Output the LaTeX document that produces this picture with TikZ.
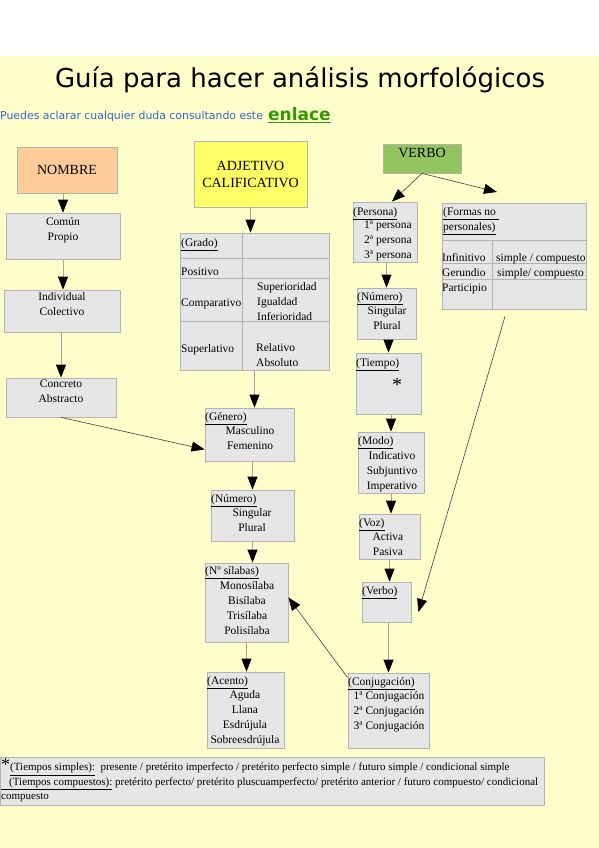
\documentclass[tikz,border=0pt]{standalone}
\usepackage{fontspec}
\setmainfont{Liberation Serif}
\newfontfamily\titlefont{DejaVu Sans}
\usetikzlibrary{arrows.meta}
\definecolor{bgyellow}{HTML}{FFFFCC}
\definecolor{boxgray}{HTML}{E6E6E6}
\definecolor{boxline}{HTML}{B3B3B3}
\definecolor{linkgray}{HTML}{A8A89A}
\definecolor{nombreorange}{HTML}{FFCC99}
\definecolor{adjyellow}{HTML}{FFFF66}
\definecolor{verbogreen}{HTML}{93C55E}
\definecolor{subblue}{HTML}{3366CC}
\definecolor{enlacegreen}{HTML}{339900}

\begin{document}
\begin{tikzpicture}[x=1pt,y=-1pt,
  gbox/.style={draw=boxline, fill=boxgray, line width=0.8pt, inner sep=0pt},
  txt/.style={font=\fontsize{11.5}{15}\selectfont, inner sep=0pt, align=center},
  hd/.style={txt, anchor=base west},
  link/.style={draw=linkgray, line width=0.8pt, -{Triangle[length=13pt, width=10pt, color=black]}},
  dlink/.style={draw=black!75, line width=0.6pt, -{Triangle[length=13pt, width=10pt, color=black]}}]
\useasboundingbox (0,0) rectangle (599,848);
\fill[white] (0,0) rectangle (599,56);
\fill[bgyellow] (0,56) rectangle (599,848);

\node[anchor=base, inner sep=0pt, font=\titlefont\fontsize{26}{30}\selectfont] (titulo) at (300,88) {Guía para hacer análisis morfológicos};
\node[anchor=base west, inner sep=0pt, font=\titlefont\fontsize{10.9}{13}\selectfont, text=subblue] (sub) at (0,120) {Puedes aclarar cualquier duda consultando este};
\node[anchor=base west, inner sep=0pt, font=\titlefont\bfseries\fontsize{17}{20}\selectfont, text=enlacegreen] (enlace) at (268,121) {\underline{enlace}};

\node[gbox, fill=nombreorange, minimum width=100pt, minimum height=46pt, font=\fontsize{14}{17}\selectfont] (nombre) at (67,170) {NOMBRE};
\node[gbox, minimum width=114pt, minimum height=46pt] (comun) at (63,236) {};
\node[txt, anchor=north] (comunT) at (63,217) {Común\\Propio};
\node[gbox, minimum width=116pt, minimum height=42pt] (indiv) at (62,311) {};
\node[txt, anchor=north] (indivT) at (62,292) {Individual\\Colectivo};
\node[gbox, minimum width=110pt, minimum height=39pt] (concreto) at (61,397.5) {};
\node[txt, anchor=north] (concretoT) at (61,380) {Concreto\\Abstracto};

\node[gbox, fill=adjyellow, minimum width=113pt, minimum height=66pt, align=center, font=\fontsize{14}{17}\selectfont] (adjetivo) at (250.5,174) {ADJETIVO\\CALIFICATIVO};
\node[gbox, minimum width=149pt, minimum height=137pt] (grado) at (254.5,301.5) {};
\draw[boxline, line width=0.8pt] (180,258) -- (329,258) (180,278) -- (329,278) (180,321) -- (329,321) (242,233) -- (242,370);
\node[hd] (gradoH) at (181,246) {\underline{(Grado)}};
\node[hd] (positivo) at (181,275) {Positivo};
\node[hd] (comparativo) at (181,306) {Comparativo};
\node[hd] (superlativo) at (181,352) {Superlativo};
\node[txt, anchor=north west, align=left] (gradoC) at (257,282) {Superioridad\\Igualdad\\Inferioridad};
\node[txt, anchor=north west, align=left] (gradoS) at (256,343) {Relativo\\Absoluto};

\node[gbox, minimum width=89pt, minimum height=53pt] (genero) at (249.5,434.5) {};
\node[hd] (generoH) at (205,420) {\underline{(Género)}};
\node[txt, anchor=north] (generoT) at (250,426) {Masculino\\Femenino};
\node[gbox, minimum width=83pt, minimum height=51pt] (numeroA) at (252.5,515.5) {};
\node[hd] (numeroAH) at (211,502) {\underline{(Número)}};
\node[txt, anchor=north] (numeroAT) at (252,508) {Singular\\Plural};
\node[gbox, minimum width=83pt, minimum height=79pt] (silabas) at (246.5,602.5) {};
\node[hd] (silabasH) at (205,574) {\underline{(Nº sílabas)}};
\node[txt, anchor=north] (silabasT) at (247,581) {Monosílaba\\Bisílaba\\Trisílaba\\Polisílaba};
\node[gbox, minimum width=77pt, minimum height=76pt] (acento) at (245.5,710) {};
\node[hd] (acentoH) at (207,684) {\underline{(Acento)}};
\node[txt, anchor=north] (acentoT) at (245,690) {Aguda\\Llana\\Esdrújula\\Sobreesdrújula};

\node[gbox, fill=verbogreen, minimum width=78pt, minimum height=29pt] (verbo) at (422,158.5) {};
\node[inner sep=0pt, font=\fontsize{14}{17}\selectfont] (verboT) at (422,153) {VERBO};
\node[gbox, minimum width=64pt, minimum height=60pt] (persona) at (385,232) {};
\node[hd] (personaH) at (353,215) {\underline{(Persona)}};
\node[txt, anchor=north] (personaT) at (388,221) {1ª persona\\2ª persona\\3ª persona};
\node[gbox, minimum width=59pt, minimum height=51pt] (numeroB) at (386.5,313.5) {};
\node[hd] (numeroBH) at (357,300) {\underline{(Número)}};
\node[txt, anchor=north] (numeroBT) at (387,306) {Singular\\Plural};
\node[gbox, minimum width=65pt, minimum height=61pt] (tiempo) at (388.5,383.5) {};
\node[hd] (tiempoH) at (356,366) {\underline{(Tiempo)}};
\node[inner sep=0pt, font=\fontsize{20}{20}\selectfont] (ast) at (397,385) {*};
\node[gbox, minimum width=66pt, minimum height=61pt] (modo) at (391,462.5) {};
\node[hd] (modoH) at (358,444) {\underline{(Modo)}};
\node[txt, anchor=north] (modoT) at (392,451) {Indicativo\\Subjuntivo\\Imperativo};
\node[gbox, minimum width=61pt, minimum height=45pt] (voz) at (389.5,536.5) {};
\node[hd] (vozH) at (359,526) {\underline{(Voz)}};
\node[txt, anchor=north] (vozT) at (388,533) {Activa\\Pasiva};
\node[gbox, minimum width=49pt, minimum height=40pt] (verboB) at (386.5,602) {};
\node[hd] (verboBH) at (362,594) {\underline{(Verbo)}};
\node[gbox, minimum width=81pt, minimum height=75pt] (conjug) at (388.5,710.5) {};
\node[hd] (conjugH) at (348,685) {\underline{(Conjugación)}};
\node[txt, anchor=north] (conjugT) at (389,691) {1ª Conjugación\\2ª Conjugación\\3ª Conjugación};

\node[gbox, minimum width=144pt, minimum height=106pt] (formas) at (514,256) {};
\draw[boxline, line width=0.8pt] (442,240) -- (586,240) (442,263) -- (586,263) (442,279) -- (586,279) (492,240) -- (492,309);
\node[txt, anchor=north west, align=left] (formasH) at (443,207) {\underline{(Formas no\ }\\\underline{personales)}};
\node[hd] (infinitivo) at (442,261) {Infinitivo};
\node[hd] (infinitivoS) at (496,261) {simple / compuesto};
\node[hd] (gerundio) at (442,276) {Gerundio};
\node[hd] (gerundioS) at (497,276) {simple/ compuesto};
\node[hd] (participio) at (442,291) {Participio};
\coordinate (fnp) at (497,192);

\node[gbox, minimum width=544pt, minimum height=48pt] (nota) at (272,781) {};
\node[txt, anchor=north west, align=left, font=\fontsize{11}{14.5}\selectfont] (notaT) at (1,759) {{\fontsize{18}{14}\selectfont*}\underline{(Tiempos simples):}\ \ presente / pretérito imperfecto / pretérito perfecto simple / futuro simple / condicional simple\\\underline{\hspace{8pt}(Tiempos compuestos):} pretérito perfecto/ pretérito pluscuamperfecto/ pretérito anterior / futuro compuesto/ condicional\\compuesto};

\draw[link] (nombre.south -| comun.north) -- (comun.north);
\draw[link] (comun.south) -- (comun.south |- indiv.north);
\draw[link] (indiv.south -| concreto.north) -- (concreto.north);
\draw[dlink] (concreto.south) -- ([yshift=12pt]genero.south west);
\draw[link] (adjetivo.south) -- (adjetivo.south |- grado.north);
\draw[link] (grado.south) -- (grado.south |- genero.north);
\draw[link] (genero.south -| numeroA.north) -- (numeroA.north);
\draw[link] (numeroA.south) -- (numeroA.south |- silabas.north);
\draw[link] (silabas.south) -- (silabas.south |- acento.north);
\draw[dlink] (verbo.south) -- ([xshift=7pt]persona.north);
\draw[dlink] (verbo.south) -- (fnp);
\draw[link] (persona.south -| numeroB.north) -- (numeroB.north);
\draw[link] (numeroB.south -| tiempo.north) -- (tiempo.north);
\draw[link] (tiempo.south -| modo.north) -- (modo.north);
\draw[link] (modo.south) -- (modo.south |- voz.north);
\draw[link] (voz.south) -- (voz.south |- verboB.north);
\draw[link] (verboB.south -| conjug.north) -- (conjug.north);
\draw[dlink] ([xshift=-9pt,yshift=-7pt]formas.south) -- ([xshift=7pt,yshift=-10pt]verboB.east);
\draw[dlink] ([yshift=-5pt]conjug.north west) -- ([yshift=5pt]silabas.east);
\end{tikzpicture}
\end{document}
